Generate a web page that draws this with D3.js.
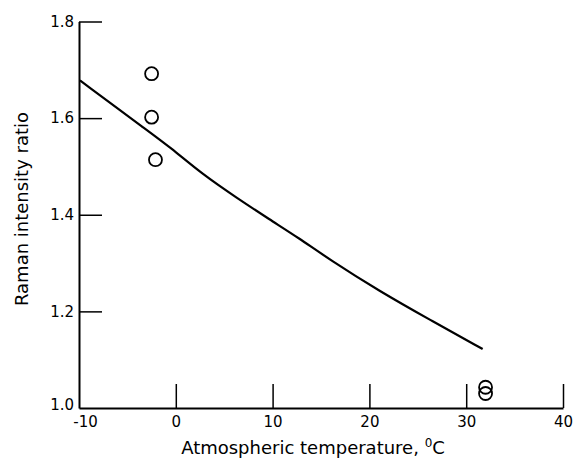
<!DOCTYPE html>
<html>
<head>
<meta charset="utf-8">
<script src="https://cdn.jsdelivr.net/npm/d3@7"></script>
<style>
  body { margin: 0; background: #fff; }
  text { font-family: "DejaVu Sans", sans-serif; fill: #000; }
</style>
</head>
<body>
<div id="chart"></div>
<script>
// curve
var curveTemp  = [-9.9, -2.7, -0.6, 2.8, 6.3, 9.7, 12.7, 15.9, 21.1, 26.3, 31.7];
var curveRatio = [1.678, 1.571, 1.540, 1.483, 1.435, 1.390, 1.352, 1.307, 1.241, 1.182, 1.122];

// measured points
var pointTemp  = [-2.5, -2.5, -2.1, 32.0, 32.0];
var pointRatio = [1.692, 1.602, 1.514, 1.043, 1.030];

var xTicks = [-10, 0, 10, 20, 30, 40];
var yTicks = [1.0, 1.2, 1.4, 1.6, 1.8];

var width = 576, height = 460;

var svg = d3.select("#chart")
  .append("svg")
    .attr("width", width)
    .attr("height", height);

var xScale = d3.scaleLinear()
    .domain([-10, 40])
    .range([79, 563]);

var yScale = d3.scaleLinear()
    .domain([1.0, 1.8])
    .range([408, 21.5]);

// axes, ticks pointing inward
var xAxis = svg.append("g")
    .attr("transform", "translate(0," + yScale(1.0) + ")")
    .call(d3.axisBottom(xScale)
      .tickValues(xTicks)
      .tickSize(-24)
      .tickPadding(8)
      .tickSizeOuter(0)
      .tickFormat(d => String(d)));

var yAxis = svg.append("g")
    .attr("transform", "translate(" + xScale(-10) + ",0)")
    .call(d3.axisLeft(yScale)
      .tickValues(yTicks)
      .tickSize(-23)
      .tickPadding(5)
      .tickSizeOuter(0)
      .tickFormat(d3.format(".1f")));

// -10 tick sits on the y axis, 1.0 tick on the x axis
xAxis.selectAll(".tick").filter(d => d === -10).select("line").remove();
xAxis.selectAll(".tick").filter(d => d === -10).select("text").attr("dx", 6);
yAxis.selectAll(".tick").filter(d => d === 1.0).select("line").remove();
yAxis.selectAll(".tick").filter(d => d === 1.0).select("text").attr("dy", "0.1em");

[xAxis, yAxis].forEach(function(g) {
  g.select(".domain").attr("stroke", "#000").attr("stroke-width", 2);
  g.selectAll(".tick line").attr("stroke", "#000").attr("stroke-width", 1.5);
  g.selectAll("text")
    .style("font-size", "15px")
    .style("font-family", "'DejaVu Sans', sans-serif")
    .attr("fill", "#000");
});

// curve
var curve = curveTemp.map((t, i) => [t, curveRatio[i]]);
svg.append("path")
    .datum(curve)
    .attr("fill", "none")
    .attr("stroke", "#000")
    .attr("stroke-width", 2.2)
    .attr("d", d3.line()
      .x(d => xScale(d[0]))
      .y(d => yScale(d[1]))
      .curve(d3.curveBasis));

// circles
svg.selectAll("circle")
    .data(pointTemp.map((t, i) => [t, pointRatio[i]]))
    .enter()
    .append("circle")
    .attr("cx", d => xScale(d[0]))
    .attr("cy", d => yScale(d[1]))
    .attr("r", 6.5)
    .attr("fill", "none")
    .attr("stroke", "#000")
    .attr("stroke-width", 1.8);

// axis titles
var xTitle = svg.append("text")
    .attr("x", 313)
    .attr("y", 454)
    .attr("text-anchor", "middle")
    .style("font-size", "18px");
xTitle.append("tspan").text("Atmospheric temperature, ");
xTitle.append("tspan").attr("dy", -7).style("font-size", "12px").text("0");
xTitle.append("tspan").attr("dy", 7).text("C");

svg.append("text")
    .attr("transform", "translate(28,209) rotate(-90)")
    .attr("text-anchor", "middle")
    .style("font-size", "18px")
    .text("Raman intensity ratio");
</script>
</body>
</html>
